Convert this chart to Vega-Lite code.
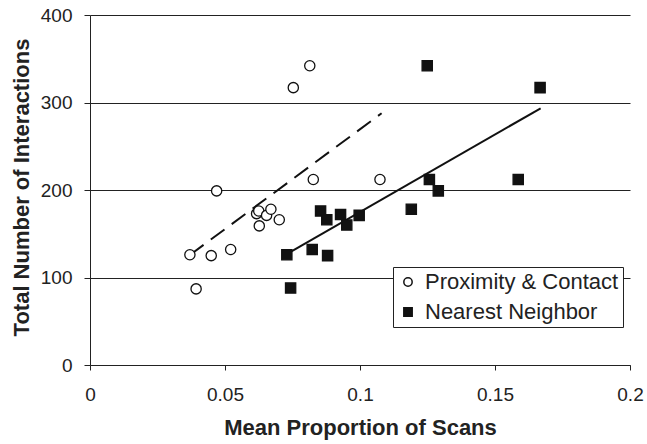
{
  "$schema": "https://vega.github.io/schema/vega-lite/v6.json",
  "width": 540,
  "height": 350,
  "autosize": {"type": "none"},
  "padding": {"left": 90, "top": 15, "right": 17, "bottom": 79},
  "background": "white",
  "config": {
    "view": {"stroke": null},
    "font": "Liberation Sans",
    "axis": {"labelColor": "#222", "titleColor": "#222", "domainColor": "#222", "tickColor": "#222"},
    "legend": {
      "title": null,
      "orient": "none",
      "legendX": 303,
      "legendY": 252,
      "padding": 4,
      "strokeColor": "#222",
      "fillColor": "white",
      "labelFontSize": 22,
      "labelColor": "#222",
      "labelLimit": 400,
      "symbolSize": 70,
      "rowPadding": 8,
      "labelOffset": 6,
      "cornerRadius": 0
    }
  },
  "datasets": {
    "pts": [
      {"x": 0.0370, "y": 126, "series": "Proximity & Contact"},
      {"x": 0.0393, "y": 87, "series": "Proximity & Contact"},
      {"x": 0.0449, "y": 125, "series": "Proximity & Contact"},
      {"x": 0.0469, "y": 199, "series": "Proximity & Contact"},
      {"x": 0.0521, "y": 132, "series": "Proximity & Contact"},
      {"x": 0.0617, "y": 173, "series": "Proximity & Contact"},
      {"x": 0.0625, "y": 176, "series": "Proximity & Contact"},
      {"x": 0.0627, "y": 159, "series": "Proximity & Contact"},
      {"x": 0.0654, "y": 171, "series": "Proximity & Contact"},
      {"x": 0.0670, "y": 178, "series": "Proximity & Contact"},
      {"x": 0.0701, "y": 166, "series": "Proximity & Contact"},
      {"x": 0.0753, "y": 317, "series": "Proximity & Contact"},
      {"x": 0.0814, "y": 342, "series": "Proximity & Contact"},
      {"x": 0.0827, "y": 212, "series": "Proximity & Contact"},
      {"x": 0.1074, "y": 212, "series": "Proximity & Contact"},
      {"x": 0.0729, "y": 126, "series": "Nearest Neighbor"},
      {"x": 0.0743, "y": 88, "series": "Nearest Neighbor"},
      {"x": 0.0823, "y": 132, "series": "Nearest Neighbor"},
      {"x": 0.0880, "y": 125, "series": "Nearest Neighbor"},
      {"x": 0.0854, "y": 176, "series": "Nearest Neighbor"},
      {"x": 0.0877, "y": 166, "series": "Nearest Neighbor"},
      {"x": 0.0928, "y": 172, "series": "Nearest Neighbor"},
      {"x": 0.0951, "y": 160, "series": "Nearest Neighbor"},
      {"x": 0.0997, "y": 171, "series": "Nearest Neighbor"},
      {"x": 0.1190, "y": 178, "series": "Nearest Neighbor"},
      {"x": 0.1257, "y": 212, "series": "Nearest Neighbor"},
      {"x": 0.1290, "y": 199, "series": "Nearest Neighbor"},
      {"x": 0.1249, "y": 342, "series": "Nearest Neighbor"},
      {"x": 0.1667, "y": 317, "series": "Nearest Neighbor"},
      {"x": 0.1586, "y": 212, "series": "Nearest Neighbor"}
    ],
    "dashed": [
      {"x": 0.0370, "y": 125.7},
      {"x": 0.1080, "y": 287.7}
    ],
    "solid": [
      {"x": 0.0730, "y": 126.9},
      {"x": 0.1669, "y": 293.4}
    ]
  },
  "layer": [
    {
      "data": {"name": "dashed"},
      "mark": {"type": "line", "color": "#111", "strokeWidth": 2, "strokeDash": [17, 9]},
      "encoding": {
        "x": {"field": "x", "type": "quantitative", "scale": {"domain": [0, 0.2], "nice": false}},
        "y": {"field": "y", "type": "quantitative", "scale": {"domain": [0, 400], "nice": false}}
      }
    },
    {
      "data": {"name": "solid"},
      "mark": {"type": "line", "color": "#111", "strokeWidth": 2},
      "encoding": {
        "x": {"field": "x", "type": "quantitative"},
        "y": {"field": "y", "type": "quantitative"}
      }
    },
    {
      "data": {"name": "pts"},
      "mark": {"type": "point", "filled": true, "size": 105, "stroke": "#111", "strokeWidth": 1.3, "opacity": 1},
      "encoding": {
        "x": {
          "field": "x", "type": "quantitative",
          "scale": {"domain": [0, 0.2], "nice": false},
          "axis": {
            "values": [0, 0.05, 0.1, 0.15, 0.2],
            "labelExpr": "'' + datum.value",
            "grid": false,
            "tickSize": 5,
            "labelFontSize": 19,
            "labelBaseline": "alphabetic",
            "labelPadding": 30,
            "labelFlush": false,
            "title": "Mean Proportion of Scans",
            "titleFontSize": 22,
            "titleFontWeight": "bold",
            "titleBaseline": "alphabetic",
            "titleX": 270,
            "titleY": 69
          }
        },
        "y": {
          "field": "y", "type": "quantitative",
          "scale": {"domain": [0, 400], "nice": false},
          "axis": {
            "values": [0, 100, 200, 300, 400],
            "grid": true,
            "gridColor": "#222",
            "gridWidth": 1,
            "gridOpacity": 1,
            "tickSize": 6,
            "labelFontSize": 19,
            "labelPadding": 12,
            "labelFlush": false,
            "title": "Total Number of Interactions",
            "titleFontSize": 22,
            "titleFontWeight": "bold",
            "titleAngle": -90,
            "titleBaseline": "alphabetic",
            "titleAlign": "center",
            "titleX": -62,
            "titleY": 172
          }
        },
        "shape": {
          "field": "series", "type": "nominal",
          "scale": {"domain": ["Proximity & Contact", "Nearest Neighbor"], "range": ["circle", "square"]},
          "legend": {
            "encode": {"symbols": {"update": {"stroke": {"value": "#111"}, "strokeWidth": {"value": 1.2}}}}
          }
        },
        "fill": {
          "field": "series", "type": "nominal",
          "scale": {"domain": ["Proximity & Contact", "Nearest Neighbor"], "range": ["white", "#111"]},
          "legend": {
            "encode": {"symbols": {"update": {"stroke": {"value": "#111"}, "strokeWidth": {"value": 1.2}}}}
          }
        }
      }
    }
  ]
}
